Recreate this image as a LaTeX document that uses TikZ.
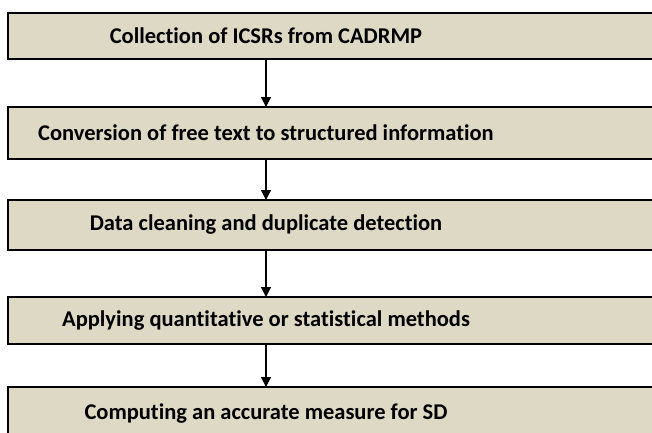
\documentclass[tikz,border=0pt]{standalone}
\usepackage{fontspec}
\setmainfont[Ligatures={NoCommon}]{Carlito}
\usetikzlibrary{arrows.meta}
\definecolor{boxfill}{HTML}{DDD9C5}
\tikzset{
  stepbox/.style={draw=black, line width=1.6pt, fill=boxfill},
  steptext/.style={font=\bfseries\fontsize{22.5}{26}\selectfont, text=black, inner sep=0pt},
  flow/.style={line width=1.3pt, -{Triangle[width=10pt,length=10pt]}}
}
\begin{document}
\begin{tikzpicture}[x=1pt,y=-1pt]
\useasboundingbox (0,0) rectangle (652,432);
\begin{scope}
\clip (0,0) rectangle (652,432);
\draw[stepbox] (8,13) rectangle (680,59);
\draw[stepbox] (8,107) rectangle (680,159);
\draw[stepbox] (8,200) rectangle (680,250);
\draw[stepbox] (8,297) rectangle (680,344);
\draw[stepbox] (8,387) rectangle (680,445);
\end{scope}
\node[steptext] (t1) at (266,36) {Collection of ICSRs from CADRMP};
\node[steptext] (t2) at (266,133) {Conversion of free text to structured information};
\node[steptext] (t3) at (266,225) {Data cleaning and duplicate detection};
\node[steptext] (t4) at (266,320.5) {Applying quantitative or statistical methods};
\node[steptext] (t5) at (266,414) {Computing an accurate measure for SD};
\coordinate (b1) at (266,59);
\coordinate (a2) at (266,107);
\coordinate (b2) at (266,159);
\coordinate (a3) at (266,200);
\coordinate (b3) at (266,250);
\coordinate (a4) at (266,297);
\coordinate (b4) at (266,344);
\coordinate (a5) at (266,387);
\draw[flow] (b1) -- (a2);
\draw[flow] (b2) -- (a3);
\draw[flow] (b3) -- (a4);
\draw[flow] (b4) -- (a5);
\end{tikzpicture}
\end{document}
